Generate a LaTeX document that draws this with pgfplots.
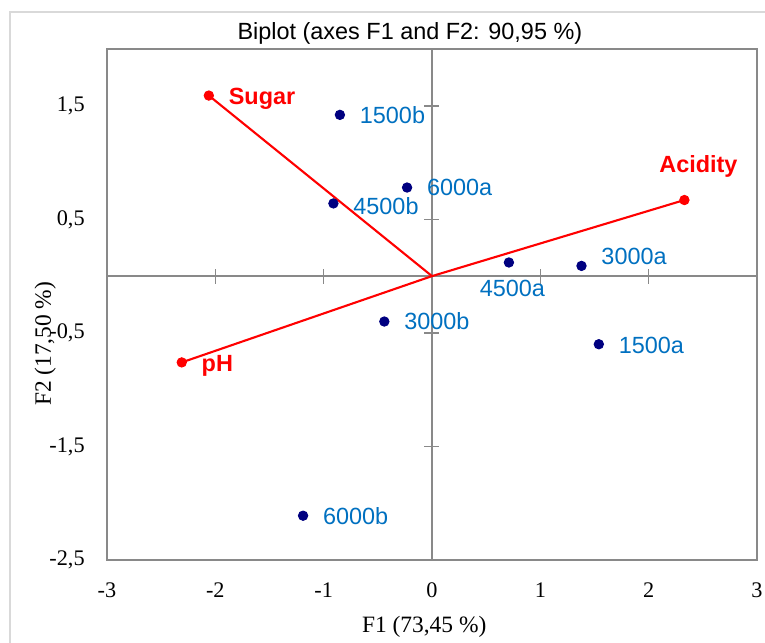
\documentclass[border=0pt]{standalone}
\usepackage{fontspec}
\setmainfont{Liberation Serif}
\newfontfamily\arial{Liberation Sans}
\usepackage{pgfplots}
\pgfplotsset{compat=1.18}

\definecolor{axgray}{HTML}{898989}
\definecolor{obsblue}{HTML}{0070C0}
\definecolor{obsnavy}{HTML}{000080}
\definecolor{framegray}{HTML}{D9D9D9}

\begin{document}
\begin{tikzpicture}
\pgfplotsset{
  common/.style={
    width=9.75cm, height=7.665cm, scale only axis,
    xmin=-3, xmax=3, ymin=-2.5, ymax=2,
  },
  % #1 anchor, #2 xshift, #3 yshift
  obs/.style n args={3}{
    only marks, mark=*, mark size=2pt, obsnavy,
    point meta=explicit symbolic, nodes near coords,
    nodes near coords style={font=\arial\fontsize{10}{12}\selectfont, text=obsblue,
      anchor=#1, xshift=#2, yshift=#3},
  },
  var/.style n args={3}{
    only marks, mark=*, mark size=2pt, red,
    point meta=explicit symbolic, nodes near coords,
    nodes near coords style={font=\arial\bfseries\fontsize{10}{12}\selectfont, text=red,
      anchor=#1, xshift=#2, yshift=#3},
  },
}
% zero lines with their ticks
\begin{axis}[common,
  axis lines=middle,
  axis line style={axgray, line width=0.7pt, -},
  xtick={-2,-1,1,2}, ytick={-1.5,-0.5,0.5,1.5},
  xticklabels={}, yticklabels={},
  tick align=center, major tick length=0.225cm,
  tick style={axgray, line width=0.7pt},
]
\end{axis}

\begin{axis}[common, name=main,
  axis line style={axgray, line width=0.7pt},
  xtick={-3,-2,...,3}, ytick={-2.5,-1.5,-0.5,0.5,1.5},
  major tick length=0pt,
  /pgf/number format/use comma,
  /pgf/number format/assume math mode=true,
  tick label style={font=\fontsize{9.5}{11}\selectfont},
  xticklabel style={yshift=-6pt},
  yticklabel style={xshift=-6pt},
  every axis title shift=0pt,
  title={Biplot (axes F1 and F2: 90,95 \%)},
  title style={font=\arial\fontsize{10}{12}\selectfont, at={(axis description cs:0.466,1.031)}, anchor=center},
  xlabel={F1 (73,45 \%)},
  xlabel style={font=\fontsize{10}{12}\selectfont, at={(axis description cs:0.488,-0.131)}, anchor=center},
  ylabel={F2 (17,50 \%)},
  ylabel style={font=\fontsize{10}{12}\selectfont, at={(axis description cs:-0.095,0.423)}, anchor=center},
  clip=false,
]
% variable vectors
\addplot[red, line width=0.9pt, no markers] coordinates {(0,0) (-2.06,1.59)};
\addplot[red, line width=0.9pt, no markers] coordinates {(0,0) (2.33,0.67)};
\addplot[red, line width=0.9pt, no markers] coordinates {(0,0) (-2.31,-0.76)};
% variable end points
\addplot[var={west}{5pt}{-1.5pt}] coordinates {(-2.06,1.59) [Sugar]};
\addplot[var={south}{6pt}{6pt}]   coordinates {(2.33,0.67) [Acidity]};
\addplot[var={west}{5pt}{-1.5pt}] coordinates {(-2.31,-0.76) [pH]};
% observations
\addplot[obs={west}{5pt}{0pt}]      coordinates {(-0.85,1.42) [1500b]};
\addplot[obs={west}{5pt}{0pt}]      coordinates {(-0.23,0.78) [6000a]};
\addplot[obs={west}{5pt}{-1pt}]     coordinates {(-0.91,0.64) [4500b]};
\addplot[obs={north}{1.5pt}{-4pt}]  coordinates {(0.71,0.12) [4500a]};
\addplot[obs={west}{5pt}{4pt}]      coordinates {(1.38,0.09) [3000a]};
\addplot[obs={west}{5pt}{0pt}]      coordinates {(-0.44,-0.40) [3000b]};
\addplot[obs={west}{5pt}{-0.5pt}]   coordinates {(1.54,-0.60) [1500a]};
\addplot[obs={west}{5pt}{0pt}]      coordinates {(-1.19,-2.11) [6000b]};
\end{axis}
% chart area border and page size (1px = 0.015cm, axis box at 107..757 x 49.5..560)
\draw[framegray, line width=0.7pt]
  ([shift={(-1.455cm,-3cm)}]main.south west) --
  ([shift={(-1.455cm,8.22cm)}]main.south west) --
  ([shift={(12cm,8.22cm)}]main.south west);
\pgfresetboundingbox
\path[use as bounding box]
  ([shift={(-1.605cm,-1.245cm)}]main.south west) rectangle
  ([shift={(9.87cm,8.4cm)}]main.south west);
\end{tikzpicture}
\end{document}
